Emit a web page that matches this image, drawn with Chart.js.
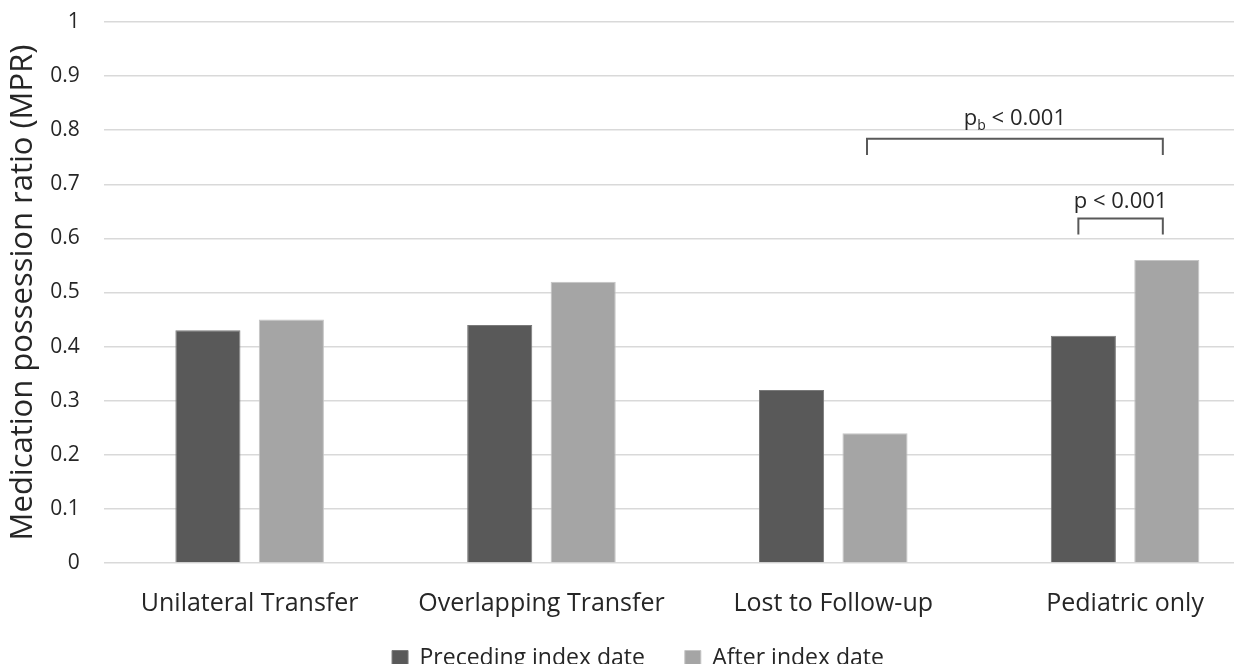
<!DOCTYPE html>
<html>
<head>
<meta charset="utf-8">
<script src="https://cdn.jsdelivr.net/npm/chart.js"></script>
<style>
  html, body { margin: 0; padding: 0; background: #fff; overflow: hidden; }
  #wrap { width: 1271px; height: 680px; }
</style>
</head>
<body>
<div id="wrap"><canvas id="mpr"></canvas></div>
<script>
const categories = ['Unilateral Transfer', 'Overlapping Transfer', 'Lost to Follow-up', 'Pediatric only']
const seriesNames = ['Preceding index date', 'After index date']
const preceding = [0.43, 0.44, 0.32, 0.42]
const after = [0.45, 0.52, 0.24, 0.56]
const yTicks = [0, 0.1, 0.2, 0.3, 0.4, 0.5, 0.6, 0.7, 0.8, 0.9, 1]

// significance brackets between bars: [category, series] at each end
const brackets = [
  { from: [2, 1], to: [3, 1], level: 0.784, label: 'p', sub: 'b', rest: ' < 0.001' },
  { from: [3, 0], to: [3, 1], level: 0.637, label: 'p', sub: '', rest: ' < 0.001' }
]

const FONT = '"Open Sans", "Noto Sans", sans-serif'
const TEXT = '#262626'

const bracketPlugin = {
  id: 'brackets',
  afterDatasetsDraw(chart) {
    const c = chart.ctx
    const y = chart.scales.y
    c.save()
    brackets.forEach((b, i) => {
      const a = chart.getDatasetMeta(b.from[1]).data[b.from[0]]
      const z = chart.getDatasetMeta(b.to[1]).data[b.to[0]]
      const x1 = a.x - (b.sub ? 8 : 5)
      const x2 = z.x - 4
      const top = y.getPixelForValue(b.level)
      const drop = y.getPixelForValue(b.level - 0.03)
      c.strokeStyle = '#595959'
      c.lineWidth = 2
      c.beginPath()
      c.moveTo(x1, drop)
      c.lineTo(x1, top)
      c.lineTo(x2, top)
      c.lineTo(x2, drop)
      c.stroke()

      // label, with subscript if any
      const base = top - (i === 0 ? 14 : 10)
      c.fillStyle = TEXT
      c.textBaseline = 'alphabetic'
      c.textAlign = 'left'
      c.font = '22px ' + FONT
      const w1 = c.measureText(b.label).width
      const w3 = c.measureText(b.rest).width
      c.font = '14px ' + FONT
      const w2 = b.sub ? c.measureText(b.sub).width : 0
      let x = (x1 + x2) / 2 - (w1 + w2 + w3) / 2
      c.font = '22px ' + FONT
      c.fillText(b.label, x, base)
      x += w1
      if (b.sub) {
        c.font = '14px ' + FONT
        c.fillText(b.sub, x, base + 5)
        x += w2
      }
      c.font = '22px ' + FONT
      c.fillText(b.rest, x, base)
    })
    c.restore()
  }
}

new Chart(document.getElementById('mpr'), {
  type: 'bar',
  data: {
    labels: categories,
    datasets: [{
      label: seriesNames[0],
      data: preceding,
      backgroundColor: '#595959',
      borderColor: '#7a7a7a',
      borderWidth: 1,
      categoryPercentage: 0.572,
      barPercentage: 0.78
    }, {
      label: seriesNames[1],
      data: after,
      backgroundColor: '#a5a5a5',
      borderColor: '#c4c4c4',
      borderWidth: 1,
      categoryPercentage: 0.572,
      barPercentage: 0.78
    }]
  },
  options: {
    responsive: true,
    maintainAspectRatio: false,
    animation: false,
    layout: { padding: { top: 6, right: 0, bottom: 0, left: 5 } },
    plugins: {
      tooltip: { enabled: false },
      legend: {
        position: 'bottom',
        labels: {
          boxWidth: 16,
          boxHeight: 16,
          padding: 10,
          color: TEXT,
          font: { family: FONT, size: 23 },
          generateLabels(chart) {
            const items = Chart.defaults.plugins.legend.labels.generateLabels(chart)
            // wider gap between the two entries
            items[0].text += '     '
            return items
          }
        }
      }
    },
    scales: {
      x: {
        grid: { display: false },
        border: { display: false },
        ticks: { color: TEXT, font: { family: FONT, size: 25 }, padding: 18 },
        afterFit(axis) { axis.height = 74 }
      },
      y: {
        min: 0,
        max: 1,
        afterBuildTicks(axis) { axis.ticks = yTicks.map(v => ({ value: v })) },
        afterFit(axis) {
          axis.width -= 20
          axis.paddingTop = 22
          axis.paddingBottom = 0
        },
        grid: { color: '#d9d9d9', lineWidth: 1.5, drawTicks: false },
        border: { display: false },
        ticks: {
          color: TEXT,
          font: { family: FONT, size: 21 },
          padding: 24,
          callback: v => String(v)
        },
        title: {
          display: true,
          text: 'Medication possession ratio (MPR)',
          color: TEXT,
          font: { family: FONT, size: 31 },
          padding: { top: 0, bottom: 4 }
        }
      }
    }
  },
  plugins: [bracketPlugin]
})
</script>
</body>
</html>
